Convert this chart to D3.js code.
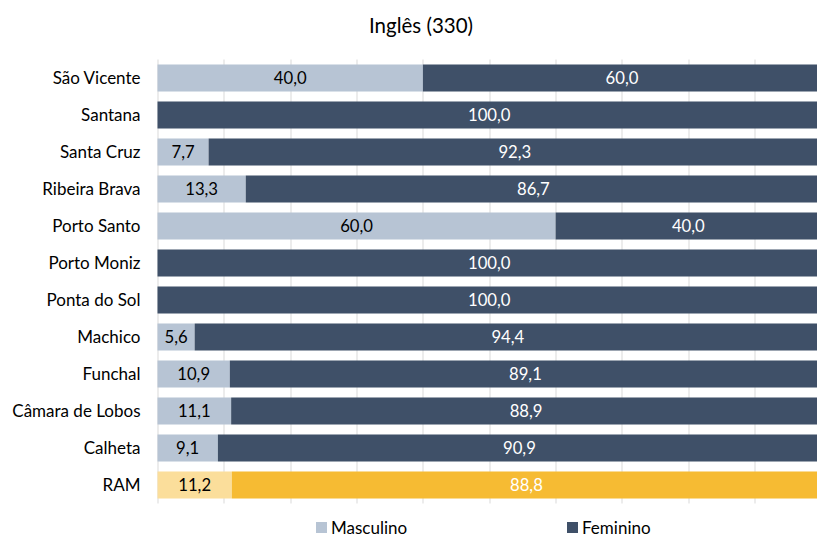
<!DOCTYPE html>
<html>
<head>
<meta charset="utf-8">
<script src="https://cdn.jsdelivr.net/npm/d3@7"></script>
<style>
  body { margin: 0; background: #fff; }
  text { font-family: Lato, "Open Sans", sans-serif; }
</style>
</head>
<body>
<div id="chart_area"></div>
<script>
// data
var categories = ["São Vicente", "Santana", "Santa Cruz", "Ribeira Brava", "Porto Santo",
  "Porto Moniz", "Ponta do Sol", "Machico", "Funchal", "Câmara de Lobos", "Calheta", "RAM"];
var masculino = [40.0, 0, 7.7, 13.3, 60.0, 0, 0, 5.6, 10.9, 11.1, 9.1, 11.2];
var feminino = [60.0, 100.0, 92.3, 86.7, 40.0, 100.0, 100.0, 94.4, 89.1, 88.9, 90.9, 88.8];
var series = ["Masculino", "Feminino"];
var gridTicks = [0, 10, 20, 30, 40, 50, 60, 70, 80, 90, 100];

var frame_width = 817, frame_height = 539;
var margin = {top: 59.5, left: 157.5, bottom: 35.5};
var plot_width = 663.5;
var plot_height = frame_height - margin.top - margin.bottom;

var svg = d3.select("#chart_area").append("svg")
  .attr("width", frame_width).attr("height", frame_height);

svg.append("text")
  .attr("x", 421).attr("y", 33)
  .attr("text-anchor", "middle")
  .style("font-size", "20.5px").style("fill", "#000")
  .text("Inglês (330)");

var canvas = svg.append("g")
  .attr("transform", "translate(" + margin.left + "," + margin.top + ")");

var xScale = d3.scaleLinear().domain([0, 100]).range([0, plot_width]);
var yScale = d3.scaleBand().domain(categories).range([0, plot_height]).paddingInner(0.27).paddingOuter(0.135);

// gridlines
canvas.append("g").selectAll("line")
  .data(gridTicks).enter().append("line")
  .attr("x1", function(d) { return Math.round(xScale(d)) + 0.5; })
  .attr("x2", function(d) { return Math.round(xScale(d)) + 0.5; })
  .attr("y1", 0).attr("y2", plot_height)
  .style("stroke", "#d9d9d9").style("stroke-width", 1);

var colors = {
  Masculino: "#b7c4d4", Feminino: "#3f5068",
  MasculinoRAM: "#fbde9b", FemininoRAM: "#f6bb33"
};

var rows = categories.map(function(c, i) {
  return {cat: c, m: masculino[i], f: feminino[i], ram: c === "RAM"};
});

var segs = [];
rows.forEach(function(r) {
  segs.push({cat: r.cat, x0: 0, v: r.m, s: "Masculino", ram: r.ram});
  segs.push({cat: r.cat, x0: r.m, v: r.f, s: "Feminino", ram: r.ram});
});
segs = segs.filter(function(d) { return d.v > 0; });

canvas.append("g").selectAll("rect")
  .data(segs).enter().append("rect")
  .attr("x", function(d) { return xScale(d.x0); })
  .attr("y", function(d) { return yScale(d.cat); })
  .attr("width", function(d) { return xScale(d.v); })
  .attr("height", yScale.bandwidth())
  .style("fill", function(d) { return colors[d.s + (d.ram ? "RAM" : "")]; });

canvas.append("g").selectAll("text")
  .data(segs).enter().append("text")
  .attr("x", function(d) { return xScale(d.x0 + d.v / 2); })
  .attr("y", function(d) { return yScale(d.cat) + yScale.bandwidth() / 2; })
  .attr("dy", "0.35em")
  .attr("text-anchor", "middle")
  .style("font-size", "16.7px")
  .style("fill", function(d) { return d.s === "Feminino" ? "#fff" : "#000"; })
  .text(function(d) { return d.v.toFixed(1).replace(".", ","); });

// category labels
canvas.append("g").selectAll("text")
  .data(categories).enter().append("text")
  .attr("x", -17)
  .attr("y", function(d) { return yScale(d) + yScale.bandwidth() / 2; })
  .attr("dy", "0.35em")
  .attr("text-anchor", "end")
  .style("font-size", "17px").style("fill", "#000")
  .text(function(d) { return d; });

// legend
var legendX = [316, 567];
var legend = svg.append("g");
series.forEach(function(s, i) {
  legend.append("rect")
    .attr("x", legendX[i]).attr("y", 522)
    .attr("width", 11).attr("height", 11)
    .style("fill", colors[s]);
  legend.append("text")
    .attr("x", legendX[i] + 15).attr("y", 528)
    .attr("dy", "0.35em")
    .style("font-size", "17px").style("fill", "#000")
    .text(s);
});
</script>
</body>
</html>
